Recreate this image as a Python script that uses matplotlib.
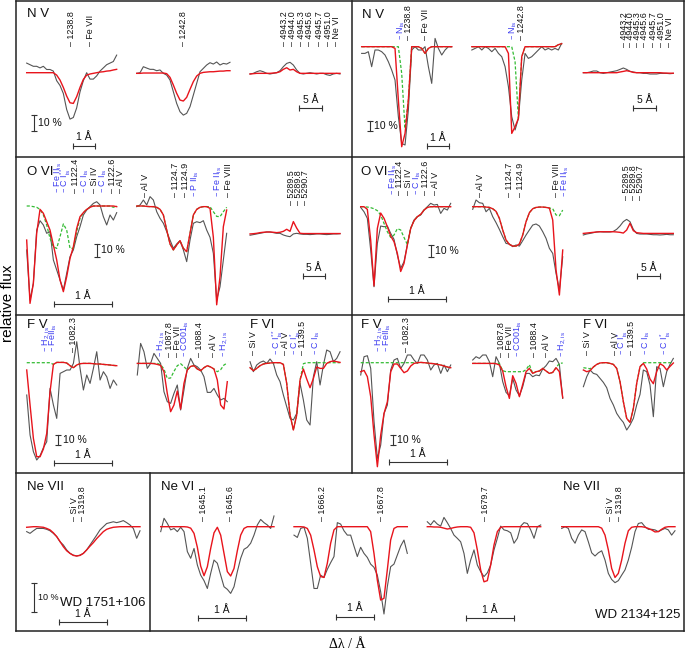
import numpy as np
import matplotlib
matplotlib.use("Agg")
import matplotlib.pyplot as plt
from matplotlib.lines import Line2D

plt.rcParams['font.family'] = ['Liberation Sans', 'DejaVu Sans']
plt.rcParams['mathtext.default'] = 'regular'

# ======================= DATA (relative flux) =======================
# --- N V, WD 1751+106 (left) ---
nv1238_l_obs = [1.06,1.05,1.04,1.04,1.03,1.04,1.02,1.02,1.01,0.95,0.92,0.87,0.77,0.71,0.72,0.78,0.88,0.95,1.00,0.96,0.96,0.98,1.01,1.03,1.05,1.06,1.07,1.11]
nv1238_l_mod = [1.0,1.0,1.0,1.0,1.0,1.0,1.0,1.0,1.0,0.985,0.954,0.908,0.854,0.812,0.808,0.85,0.908,0.958,0.985,0.992,0.996,1.0,1.004,1.006,1.01,1.012,1.017,1.021]
nv1242_l_obs = [0.996,1.0,1.0375,1.029,1.021,1.021,1.0125,1.017,0.996,0.985,0.954,0.881,0.808,0.756,0.735,0.746,0.7875,0.86,0.933,1.006,1.027,1.048,1.0625,1.054,1.067,1.048,1.058,1.054,1.065]
nv1242_l_mod = [0.996,0.996,0.998,0.998,0.998,0.998,0.998,0.998,0.998,0.994,0.971,0.923,0.871,0.829,0.823,0.846,0.896,0.944,0.979,0.996,1.002,1.004,1.006,1.006,1.008,1.01,1.01,1.0125,1.0125]
nvopt_l_obs = [0.992,0.996,1.006,1.0125,1.006,0.996,0.992,0.996,1.0,1.0125,1.0375,1.058,1.065,1.048,1.017,0.996,0.992,0.996,1.0,0.996,0.992,0.996,0.996,0.9875,0.983,0.992,0.996,0.992]
nvopt_l_mod = [0.992,0.994,0.996,0.996,0.996,0.996,0.996,0.998,1.0,1.006,1.021,1.031,1.017,1.021,1.006,0.996] + [0.996]*12
# --- N V, WD 2134+125 (right) ---
nv1238_r_obs = [0.933,0.933,0.95,0.8,0.967,0.967,0.95,0.917,0.85,0.767,0.667,0.3,0.033,0.017,0.367,0.967,1.0,0.967,0.967,1.0,0.8,0.633,1.083,0.983,0.917,0.967,1.0,1.0]
nv1238_r_mod = [1.0]*10 + [0.983,0.467,0.0,0.133,0.467,1.0,1.0,1.0,0.983,0.933,0.983] + [1.0]*7
nv1238_r_ism = [1.0]*12 + [0.733,0.183,0.467,1.0,1.0,1.0,0.983,0.933,0.983] + [1.0]*7
nv1242_r_obs = [0.967,0.983,1.0,0.967,1.0,0.983,0.95,0.983,0.933,0.9,0.8,0.6,0.3,0.167,0.283,0.667,0.933,0.883,0.9,0.933,0.967,1.0,0.967,0.983,0.967,0.983,0.967,1.033]
nv1242_r_mod = [1.0]*11 + [0.933,0.133,0.2,0.283,0.9,1.0] + [1.0]*9 + [1.02,1.03]
nv1242_r_ism = [1.0]*13 + [0.85,0.283,0.9,1.0] + [1.0]*9 + [1.02,1.03]
nvopt_r_obs = [1.0,1.0,1.007,1.017,1.017,1.0,0.993,1.0,1.007,1.013,1.02,1.033,1.047,1.033,1.013,1.007,1.0,1.0,0.993,0.993,0.987,0.987,0.987,0.993,0.993,0.993,0.99,0.993]
nvopt_r_mod = [1.0]*11 + [1.007,1.013,1.02,1.013,1.003] + [1.0]*8 + [0.997,0.996,0.995,0.995]
# --- O VI left ---
ovi1122_l_obs = [0.662,0.277,0.405,0.815,0.887,0.854,0.79,0.803,0.585,0.508,0.431,0.354,0.482,0.61,0.662,0.764,0.841,0.931,0.969,0.995,1.02,1.033,1.008,0.918,0.854,0.931,0.892,0.949]
ovi1122_l_mod = [0.738,0.251,0.405,0.79,0.974,0.944,0.879,0.815,0.7,0.585,0.431,0.341,0.456,0.597,0.687,0.828,0.918,0.949,0.974,0.99] + [1.0]*7 + [0.995]
ovi1122_l_ism = [1.0,1.0,0.995,0.99,0.974,0.931,0.854,0.751,0.687,0.674,0.764,0.862,0.815,0.674,0.674,0.803,0.905,0.949,0.974,0.99,1.0,1.0,1.0,1.0,1.0,1.0,0.99,1.0]
ovi1124_l_obs = [0.995,1.008,1.046,1.008,1.072,1.046,0.956,0.905,0.867,0.803,0.738,0.674,0.708,0.733,0.662,0.572,0.738,0.867,0.879,0.872,0.887,0.815,0.759,0.636,0.277,0.379,0.585,0.79]
ovi1124_l_mod = [1.0,1.0,1.0,0.997,0.995,0.995,0.99,0.974,0.931,0.815,0.708,0.662,0.7,0.733,0.674,0.649,0.79,0.931,0.974,0.99,0.995,0.995,0.982,0.759,0.24,0.456,0.841,0.969]
ovi1124_l_ism = [1.0,1.0,1.0,0.997,0.995,0.995,0.99,0.974,0.931,0.815,0.708,0.662,0.7,0.733,0.674,0.649,0.79,0.931,0.974,0.99,0.995,0.995,0.995,0.956,0.92,0.918,0.956,0.99]
oviopt_l_obs = [0.985,0.99,0.995,1.0,1.005,1.01,1.01,1.005,1.0,1.0,0.987,0.979,0.974,0.995,1.0,0.995,0.992,0.992,0.99,0.992,0.995,0.995,0.992,0.99,0.992,0.995,0.995,0.997]
oviopt_l_mod = [0.995,0.997,1.0,1.005,1.008,1.01,1.01,1.008,1.005,1.008,1.015,1.031,1.015,1.09,1.04,1.0] + [0.998]*12
# --- O VI right ---
ovi1122_r_obs = [0.994,0.958,0.903,0.639,0.333,0.694,0.839,0.833,0.839,0.778,0.728,0.597,0.486,0.542,0.681,0.819,0.889,0.917,0.931,0.972,1.0,1.028,1.014,1.019,0.944,0.986,0.972,1.028]
ovi1122_r_mod = [1.0,1.0,0.978,0.722,0.34,0.819,0.947,0.903,0.833,0.756,0.708,0.611,0.46,0.528,0.681,0.819,0.883,0.917,0.936,0.972,0.994,1.0] + [1.0]*6
ovi1122_r_ism = [1.0,1.0,0.997,0.992,0.983,0.967,0.931,0.861,0.792,0.744,0.764,0.817,0.806,0.744,0.685,0.819,0.883,0.917,0.936,0.972,0.994,1.0] + [1.0]*6
ovi1124_r_obs = [0.978,1.056,1.033,1.028,0.958,0.986,0.917,0.867,0.811,0.75,0.694,0.689,0.667,0.681,0.672,0.717,0.764,0.806,0.847,0.856,0.839,0.792,0.736,0.653,0.611,0.444,0.306,0.583]
ovi1124_r_mod = [1.0,1.0,1.0,1.0,0.997,0.994,0.983,0.961,0.903,0.806,0.722,0.686,0.672,0.672,0.689,0.764,0.875,0.95,0.983,0.994,0.997,0.997,0.994,0.989,0.889,0.472,0.264,0.639]
ovi1124_r_ism = [1.0,1.0,1.0,1.0,0.997,0.994,0.983,0.961,0.903,0.806,0.722,0.686,0.672,0.672,0.689,0.764,0.875,0.95,0.983,0.994,0.997,0.997,0.994,0.989,0.983,0.931,0.925,0.972]
oviopt_r_obs = [0.981,0.989,0.994,1.0,1.006,1.008,1.006,1.006,1.006,1.011,1.028,1.056,1.092,1.111,1.092,1.028,0.994,0.989,0.989,0.989,0.986,0.983,0.983,0.981,0.983,0.986,0.983,0.983]
oviopt_r_mod = [0.994,0.997,1.0,1.003,1.006,1.008,1.008,1.008,1.008,1.008,1.006,1.003,0.997,1.022,1.078,1.017,1.0,0.997] + [0.994]*10
# --- F V / F VI left ---
fv1082_l_obs = [0.677,0.277,0.11,0.027,0.07,0.15,0.21,0.743,0.577,0.443,0.893,0.91,0.927,0.927,0.993,1.21,0.943,0.727,0.877,0.793,0.943,1.11,0.827,0.91,0.86,0.743,0.827,0.777]
fv1082_l_mod = [0.927,0.577,0.243,0.06,0.06,0.137,0.293,0.71,0.983,1.003,1.003,1.003,0.997,0.97,0.95,0.977,0.99,0.993,0.993,0.993,0.99,0.987,0.987,0.983,0.98,0.977,0.973,0.97]
fv1082_l_ism = [1.0]*8 + [0.983,1.003,1.003,1.003,0.997,0.97,0.95,0.977,0.99,0.993,0.993,0.993,0.99,0.987,0.987,0.983,0.98,0.977,0.973,0.97]
fv1087_l_obs = [0.877,1.193,1.11,0.943,0.993,1.093,1.043,0.993,0.71,0.61,0.593,0.693,0.777,0.527,0.727,0.943,1.043,0.977,0.96,0.927,0.86,0.703,0.703,0.743,0.677,0.627,0.643,0.61]
fv1087_l_mod = [0.993,0.993,0.993,0.993,0.993,0.99,0.983,0.973,0.91,0.693,0.51,0.577,0.717,0.537,0.793,0.927,0.963,0.97,0.937,0.92,0.95,0.97,0.957,0.937,0.827,0.577,0.537,0.81]
fv1087_l_ism = [0.993]*7 + [0.98,0.937,0.843,0.847,0.913,0.97,0.99,0.96,0.927,0.963,0.97,0.937,0.92,0.95,0.97,0.957,0.937,0.91,0.93,0.977,0.997]
fvi1139_l_obs = [1.01,0.91,0.977,1.003,1.017,0.993,1.037,0.993,0.877,0.81,0.677,0.56,0.443,0.427,0.493,0.793,0.627,0.427,0.377,0.86,1.01,0.777,0.977,1.127,1.11,1.01,1.043,1.11]
fvi1139_l_mod = [0.95,0.92,0.943,0.97,0.987,0.993,0.997,1.0,1.0,1.0,0.983,0.793,0.477,0.327,0.477,0.827,0.937,0.837,0.75,0.843,0.957,0.943,0.943,0.993,1.01,1.017,1.01,1.003]
fvi1139_l_ism = [0.95,0.92,0.943,0.97,0.987,0.993,0.997,1.0,1.0,1.0,0.983,0.793,0.477,0.327,0.477,0.827,0.99] + [1.0]*11
# --- F V / F VI right ---
fv1082_r_obs = [0.877,1.06,1.07,0.943,0.41,0.043,0.177,0.493,0.577,0.927,1.027,1.043,0.943,0.993,1.077,1.077,1.027,0.993,1.077,1.077,1.027,0.927,0.977,0.993,0.893,0.977,0.91,0.977]
fv1082_r_mod = [0.91,0.923,0.86,0.66,0.277,-0.04,0.277,0.493,0.61,0.91,0.987,0.987,0.943,0.9,0.917,0.967,0.993,1.0,1.003,1.0,0.997,0.993,0.99,0.983,0.977,0.967,0.957,0.95]
fv1082_r_ism = [1.0]*18 + [1.003,1.0,0.997,0.993,0.99,0.983,0.977,0.967,0.957,0.95]
fv1087_r_obs = [1.027,1.06,1.043,1.077,1.077,1.01,0.86,1.06,0.993,0.81,0.703,0.67,0.843,0.727,0.67,0.76,0.893,0.893,0.86,0.877,0.87,0.937,0.97,1.017,1.01,1.043,0.983,0.643]
fv1087_r_mod = [0.993]*7 + [0.99,0.977,0.917,0.76,0.643,0.87,0.793,0.66,0.783,0.91,0.943,0.893,0.91,0.917,0.943,0.917,0.893,0.903,0.95,0.91,0.65]
fv1087_r_ism = [0.993]*9 + [0.92] + [0.91]*6 + [0.93,0.98,0.893,0.91,0.917,0.943,0.917,0.893,0.903,0.95,0.993,0.997]
fvi1139_r_obs = [0.76,0.86,0.927,0.893,0.883,0.843,0.803,0.75,0.643,0.577,0.493,0.443,0.403,0.327,0.377,0.443,0.577,0.683,0.927,0.91,0.777,0.46,0.96,0.943,0.76,0.91,0.983,1.043]
fvi1139_r_mod = [0.927,0.91,0.92,0.957,0.983,0.997,1.0,1.0,0.993,0.983,0.943,0.81,0.61,0.443,0.403,0.543,0.793,0.96,0.993,0.937,0.837,0.79,0.91,0.99,0.97,0.927,0.963,0.997]
fvi1139_r_ism = [0.95,0.945,0.94,0.957,0.983,0.997,1.0,1.0,0.993,0.983,0.943,0.81,0.61,0.443,0.403,0.543,0.793,0.96] + [1.0]*10
# --- Ne VII WD 1751+106 ---
nevii_l_obs = [0.983,0.977,0.986,0.994,0.994,0.994,0.991,0.986,0.977,0.966,0.948,0.937,0.92,0.908,0.902,0.899,0.902,0.908,0.92,0.937,0.954,0.971,0.989,1.0,1.011,1.014,1.017,1.014,1.017,1.021,1.014,1.006,0.994,0.96,0.986]
nevii_l_mod = [0.998,0.999,1.0,1.0,0.999,0.998,0.994,0.989,0.979,0.966,0.949,0.931,0.917,0.908,0.901,0.899,0.901,0.908,0.92,0.933,0.945,0.959,0.971,0.983,0.991,0.995,0.998,0.999,1.0,1.0,1.0,1.0,1.0,1.0,1.0]
# --- Ne VI / Ne VII WD 2134+125 ---
nevi1645_obs = [0.983,1.029,1.011,0.989,0.994,0.983,0.998,0.983,0.914,0.891,0.925,0.868,0.833,0.814,0.787,0.839,0.885,0.874,0.833,0.793,0.784,0.77,0.793,0.845,0.891,0.922,0.929,0.943,0.971,1.006,1.025,1.014,1.006,0.994,1.037]
nevi1645_mod = [1.0]*8 + [0.999,0.995,0.977,0.929,0.864,0.831,0.862,0.925,0.979,0.998,0.971,0.908,0.845,0.83,0.856,0.917,0.971,0.994,1.0] + [1.0]*8
nevi1666_obs = [0.971,0.963,0.994,0.998,0.96,0.874,0.787,0.787,0.833,0.825,0.853,0.876,0.897,1.014,1.009,0.986,0.971,0.971,0.933,0.897,0.929,0.908,0.894,0.871,0.86,0.833,0.776,0.699,0.793,0.862,0.871,0.902,0.933,0.954,0.908]
nevi1666_mod = [1.0,1.0,1.0,0.999,0.994,0.971,0.92,0.862,0.828,0.825,0.874,0.943,0.989] + [1.0]*10 + [0.983,0.908,0.816,0.747,0.753,0.851,0.954,0.994] + [1.0]*4
nevi1679_obs = [1.017,1.006,1.021,1.009,1.002,1.032,1.014,0.994,0.971,0.96,0.948,0.908,0.839,0.885,0.92,0.868,0.845,0.828,0.841,0.868,0.92,0.96,1.002,0.989,0.986,0.979,0.943,0.96,1.002,1.014,1.011,0.989,0.96,1.0,1.006]
nevi1679_mod = [1.0,1.0,0.999,0.999,0.998,0.995,0.992,0.994,0.997,0.999,1.0,1.0,1.0,0.998,0.979,0.92,0.851,0.81,0.814,0.868,0.937,0.983,0.998] + [1.0]*12
nevii_r_obs = [0.994,1.0,0.994,0.96,0.943,0.971,0.989,0.983,0.948,0.91,0.899,0.91,0.917,0.885,0.839,0.818,0.807,0.814,0.833,0.851,0.885,0.929,0.983,1.011,1.014,1.0,0.991,0.991,0.989,0.983,0.989,0.994,0.989,0.971,0.986]
nevii_r_mod = [1.0]*12 + [0.995,0.971,0.92,0.856,0.825,0.839,0.885,0.943,0.986,0.998,1.0,1.0,1.0,0.998,0.994,0.989,0.982,0.983,0.991,0.998,1.0,1.0,1.0]

# Line identifications: (delta lambda [A], label, interstellar?)
ids_nv1238_l = [(0.0, '1238.8', 0), (0.82, 'Fe VII', 0)]
ids_nv1242_l = [(0.0, '1242.8', 0)]
ids_nvopt_l = [(0, '4943.2', 0), (1.8, '4944.0', 0), (3.8, '4945.3', 0), (5.6, '4945.6', 0), (7.7, '4945.7', 0), (9.6, '4951.0', 0), (11.4, 'Ne VI', 0)]
ids_nv1238_r = [(0, 'N$_{is}$', 1), (0.34, '1238.8', 0), (1.12, 'Fe VII', 0)]
ids_nv1242_r = [(0, 'N$_{is}$', 1), (0.39, '1242.8', 0)]
ids_nvopt_r = [(0, '4943.2', 0), (1.4, '4944.0', 0), (2.9, '4945.3', 0), (4.5, '4945.6', 0), (6.3, '4945.7', 0), (8.1, '4951.0', 0), (9.9, 'Ne VI', 0)]
ids_ovi1122_l = [(-0.29, 'Fe II$_{is}$', 1), (-0.155, 'C I$^{**}_{is}$', 1), (0, '1122.4', 0), (0.18, 'C I$_{is}$', 1),
                 (0.33, 'Si IV', 0), (0.49, 'C I$_{is}$', 1), (0.64, '1122.6', 0), (0.79, 'Al V', 0)]
ids_ovi1124_l = [(-0.517, 'Al V', 0), (0, '1124.7', 0), (0.184, '1124.9', 0), (0.345, 'P II$_{is}$', 1), (0.747, 'Fe II$_{is}$', 1), (0.92, 'Fe VIII', 0)]
ids_oviopt_l = [(0, '5289.5', 0), (1.5, '5289.8', 0), (3.03, '5290.7', 0)]
ids_ovi1122_r = [(-0.115, 'Fe II$_{is}$', 1), (0, '1122.4', 0), (0.143, 'Si IV', 0), (0.299, 'C I$_{is}$', 1), (0.448, '1122.6', 0), (0.62, 'Al V', 0)]
ids_ovi1124_r = [(-0.517, 'Al V', 0), (0, '1124.7', 0), (0.184, '1124.9', 0), (0.805, 'Fe VIII', 0), (0.948, 'Fe II$_{is}$', 1)]
ids_oviopt_r = [(0, '5289.5', 0), (1.45, '5289.8', 0), (2.9, '5290.7', 0)]
ids_fv1082_l = [(-0.459, 'H$_{2,is}$', 1), (-0.345, 'FeII$_{is}$', 1), (0, '1082.3', 0)]
ids_fv1087_l = [(-0.143, 'H$_{2,is}$', 1), (0, '1087.8', 0), (0.138, 'Fe VII', 0), (0.276, 'CO01$_{is}$', 1), (0.517, '1088.4', 0), (0.759, 'Al V', 0), (0.943, 'H$_{2,is}$', 1)]
ids_fvi1139_l = [(-0.851, 'Si V', 0), (-0.42, 'C I$^{**}_{is}$', 1), (-0.288, 'Al V', 0), (-0.115, 'C I$^{*}_{is}$', 1), (0, '1139.5', 0), (0.241, 'C I$_{is}$', 1)]
ids_fv1082_r = [(-0.472, 'H$_{2,is}$', 1), (-0.334, 'FeII$_{is}$', 1), (0, '1082.3', 0)]
ids_fv1087_r = [(0, '1087.8', 0), (0.143, 'Fe VII', 0), (0.287, 'CO01$_{is}$', 1), (0.557, '1088.4', 0), (0.764, 'Al V', 0), (1.052, 'H$_{2,is}$', 1)]
ids_fvi1139_r = [(-0.765, 'Si V', 0), (-0.282, 'Al V', 0), (-0.144, 'C I$^{*}_{is}$', 1), (0, '1139.5', 0), (0.259, 'C I$_{is}$', 1), (0.592, 'C I$^{*}_{is}$', 1)]
ids_nevii_l = [(-0.181, 'Si V', 0), (0, '1319.8', 0)]
ids_nevi1645 = [(0, '1645.1', 0), (0.542, '1645.6', 0)]
ids_nevi1666 = [(0, '1666.2', 0), (1.563, '1667.8', 0)]
ids_nevi1679 = [(0, '1679.7', 0)]
ids_nevii_r = [(-0.179, 'Si V', 0), (0, '1319.8', 0)]

# ======================= LAYOUT =======================
W, H = 686, 653
fig = plt.figure(figsize=(W / 100, H / 100), dpi=100)

C_OBS = '#555555'
C_MOD = '#e8141c'
C_ISM = '#33bb33'
C_BLUE = '#3a3af0'
C_BAR = '#333333'

XL, XM, XR = 16, 351.5, 684
Y0, Y1, Y2, Y3, Y4 = 0.5, 157, 315, 473, 631
XG = 150
BOX = {
    'A': (XL, Y0, XM, Y1), 'B': (XM, Y0, XR, Y1),
    'C': (XL, Y1, XM, Y2), 'D': (XM, Y1, XR, Y2),
    'E': (XL, Y2, XM, Y3), 'F': (XM, Y2, XR, Y3),
    'G': (XL, Y3, XG, Y4), 'H': (XG, Y3, XR, Y4),
}

bg = fig.add_axes([0, 0, 1, 1])
bg.set_xlim(0, W)
bg.set_ylim(H, 0)
bg.axis('off')
frame_kw = dict(color='#222222', lw=1.1, solid_capstyle='projecting')
for (x0, x1, y0, y1) in [(XL, XR, Y0, Y0), (XL, XR, Y4, Y4), (XL, XL, Y0, Y4), (XR, XR, Y0, Y4),
                         (XL, XR, Y1, Y1), (XL, XR, Y2, Y2), (XL, XR, Y3, Y3),
                         (XM, XM, Y0, Y3), (XG, XG, Y3, Y4)]:
    bg.add_line(Line2D([x0, x1], [y0, y1], **frame_kw))

titles = [(27, 14, 'N V'), (362, 15, 'N V'), (27, 172, 'O VI'), (361, 172, 'O VI'),
          (27, 325, 'F V'), (250, 325, 'F VI'), (361, 325, 'F V'), (583, 325, 'F VI'),
          (27, 487, 'Ne VII'), (161, 487, 'Ne VI'), (563, 487, 'Ne VII')]
for x, y, t in titles:
    bg.text(x, y, t, fontsize=9.5, ha='left', va='center', color='#111111')

bg.text(8, 303, 'relative flux', rotation=90, fontsize=11, ha='center', va='center')
bg.text(347, 645, 'Δλ / Å', fontsize=10, ha='center', va='center', family=['Liberation Serif', 'DejaVu Serif'])


def panel_ax(box, cx, sx, cy, sy):
    l, t, r, b = BOX[box]
    ax = fig.add_axes([l / W, 1 - b / H, (r - l) / W, (b - t) / H])
    ax.set_xlim((l - cx) / sx, (r - cx) / sx)
    ax.set_ylim(1 - (b - cy) / sy, 1 + (cy - t) / sy)
    ax.axis('off')
    return ax


def draw(ax, rng, obs, mod, ism=None):
    ax.plot(np.linspace(rng[0], rng[1], len(obs)), obs, color=C_OBS, lw=0.8)
    if ism is not None:
        ax.plot(np.linspace(rng[0], rng[1], len(ism)), ism, color=C_ISM, lw=0.9, ls=(0, (2.5, 1.5)))
    ax.plot(np.linspace(rng[0], rng[1], len(mod)), mod, color=C_MOD, lw=1.0)


def label_ids(ax, ids, ybase):
    for dl, txt, isl in ids:
        ax.text(dl, ybase, '\u2013 ' + txt, rotation=90, ha='center', va='bottom',
                fontsize=6.4, color=C_BLUE if isl else '#111111')


def hbar(ax, x0, x1, y, ytxt, txt):
    ax.plot([x0, x1], [y, y], color=C_BAR, lw=0.8, marker='|', ms=4, mew=0.8, clip_on=False)
    ax.text((x0 + x1) / 2, ytxt, txt, ha='center', va='bottom', fontsize=7.5, color='#111111')


def vbar(ax, x, y0, y1, xt, txt, fs=7.5, vat='center', yt=None):
    ax.plot([x, x], [y0, y1], color=C_BAR, lw=0.8, marker='_', ms=5, mew=0.8, clip_on=False)
    ax.text(xt, (y0 + y1) / 2 if yt is None else yt, txt, ha='left', va=vat, fontsize=fs, color='#111111')


# ---- Box A: N V left ----
ax = panel_ax('A', 72, 22, 72.7, 160)
draw(ax, (-2.06, 2.03), nv1238_l_obs, nv1238_l_mod)
label_ids(ax, ids_nv1238_l, 1.167)
vbar(ax, -1.727, 0.736, 0.636, -1.545, '10 %')
hbar(ax, 0.045, 1.045, 0.545, 0.565, '1 Å')
ax = panel_ax('A', 184, 22, 72.7, 160)
draw(ax, (-2.15, 2.09), nv1242_l_obs, nv1242_l_mod)
label_ids(ax, ids_nv1242_l, 1.167)
ax = panel_ax('A', 284, 4.6, 72.7, 160)
draw(ax, (-7.39, 12.17), nvopt_l_obs, nvopt_l_mod)
label_ids(ax, ids_nvopt_l, 1.167)
hbar(ax, 3.26, 8.26, 0.779, 0.80, '5 Å')

# ---- Box B: N V right ----
ax = panel_ax('B', 401, 21.5, 46.7, 100)
draw(ax, (-1.83, 2.36), nv1238_r_obs, nv1238_r_mod, nv1238_r_ism)
label_ids(ax, ids_nv1238_r, 1.067)
vbar(ax, -1.44, 0.257, 0.157, -1.256, '10 %')
hbar(ax, 1.21, 2.21, 0.01, 0.04, '1 Å')
ax = panel_ax('B', 513.3, 21.5, 46.7, 100)
draw(ax, (-1.93, 2.25), nv1242_r_obs, nv1242_r_mod, nv1242_r_ism)
label_ids(ax, ids_nv1242_r, 1.067)
ax = panel_ax('B', 624.3, 4.6, 72.7, 100)
draw(ax, (-8.9, 10.65), nvopt_r_obs, nvopt_r_mod)
label_ids(ax, ids_nvopt_r, 1.26)
hbar(ax, 1.89, 6.89, 0.65, 0.68, '5 Å')

# ---- Box C: O VI left ----
ax = panel_ax('C', 75, 58, 206, 130)
draw(ax, (-0.833, 0.719), ovi1122_l_obs, ovi1122_l_mod, ovi1122_l_ism)
label_ids(ax, ids_ovi1122_l, 1.10)
vbar(ax, 0.374, 0.708, 0.608, 0.448, '10 %')
hbar(ax, -0.362, 0.638, 0.246, 0.27, '1 Å')
ax = panel_ax('C', 175, 58, 206, 130)
draw(ax, (-0.66, 0.891), ovi1124_l_obs, ovi1124_l_mod, ovi1124_l_ism)
label_ids(ax, ids_ovi1124_l, 1.072)
ax = panel_ax('C', 291.7, 4.4, 233.3, 130)
draw(ax, (-9.47, 10.98), oviopt_l_obs, oviopt_l_mod)
label_ids(ax, ids_oviopt_l, 1.218)
hbar(ax, 2.57, 7.57, 0.672, 0.695, '5 Å')

# ---- Box D: O VI right ----
ax = panel_ax('D', 400, 58, 206.7, 120)
draw(ax, (-0.678, 0.874), ovi1122_r_obs, ovi1122_r_mod, ovi1122_r_ism)
label_ids(ax, ids_ovi1122_r, 1.097)
vbar(ax, 0.529, 0.681, 0.581, 0.603, '10 %')
hbar(ax, -0.207, 0.793, 0.231, 0.255, '1 Å')
ax = panel_ax('D', 510, 58, 206.7, 120)
draw(ax, (-0.643, 0.909), ovi1124_r_obs, ovi1124_r_mod, ovi1124_r_ism)
label_ids(ax, ids_ovi1124_r, 1.083)
ax = panel_ax('D', 626.7, 4.6, 232.7, 120)
draw(ax, (-9.43, 10.13), oviopt_r_obs, oviopt_r_mod)
label_ids(ax, ids_oviopt_r, 1.272)
hbar(ax, 2.24, 7.24, 0.639, 0.665, '5 Å')

# ---- Box E: F V / F VI left ----
ax = panel_ax('E', 73.3, 58, 362.7, 100)
draw(ax, (-0.803, 0.749), fv1082_l_obs, fv1082_l_mod, fv1082_l_ism)
label_ids(ax, ids_fv1082_l, 1.107)
vbar(ax, -0.269, 0.277, 0.177, -0.178, '10 %')
hbar(ax, -0.333, 0.667, 0.0, 0.03, '1 Å')
ax = panel_ax('E', 169.3, 58, 362.7, 100)
draw(ax, (-0.552, 1.0), fv1087_l_obs, fv1087_l_mod, fv1087_l_ism)
label_ids(ax, ids_fv1087_l, 1.057)
ax = panel_ax('E', 302.7, 58, 362.7, 100)
draw(ax, (-0.908, 0.644), fvi1139_l_obs, fvi1139_l_mod, fvi1139_l_ism)
label_ids(ax, ids_fvi1139_l, 1.077)

# ---- Box F: F V / F VI right ----
ax = panel_ax('F', 406.7, 58, 362.7, 100)
draw(ax, (-0.793, 0.759), fv1082_r_obs, fv1082_r_mod, fv1082_r_ism)
label_ids(ax, ids_fv1082_r, 1.107)
vbar(ax, -0.241, 0.277, 0.177, -0.167, '10 %')
hbar(ax, -0.305, 0.695, 0.007, 0.037, '1 Å')
ax = panel_ax('F', 501.7, 58, 362.7, 100)
draw(ax, (-0.5, 1.052), fv1087_r_obs, fv1087_r_mod, fv1087_r_ism)
label_ids(ax, ids_fv1087_r, 1.057)
ax = panel_ax('F', 631.7, 58, 362.7, 100)
draw(ax, (-0.833, 0.718), fvi1139_r_obs, fvi1139_r_mod, fvi1139_r_ism)
label_ids(ax, ids_fvi1139_r, 1.077)

# ---- Box G: Ne VII, WD 1751+106 ----
ax = panel_ax('G', 82.7, 48, 526.7, 290)
draw(ax, (-1.167, 1.194), nevii_l_obs, nevii_l_mod)
label_ids(ax, ids_nevii_l, 1.02)
vbar(ax, -1.015, 0.806, 0.706, -0.93, '10 %', fs=6.5, vat='bottom', yt=0.742)
ax.text(-0.473, 0.737, 'WD 1751+106', fontsize=9.5, ha='left', va='center', color='#111111')
hbar(ax, -0.494, 0.506, 0.670, 0.682, '1 Å')

# ---- Box H: Ne VI / Ne VII, WD 2134+125 ----
ax = panel_ax('H', 204, 48, 526.7, 290)
draw(ax, (-0.902, 1.458), nevi1645_obs, nevi1645_mod)
label_ids(ax, ids_nevi1645, 1.02)
hbar(ax, -0.125, 0.875, 0.684, 0.696, '1 Å')
ax = panel_ax('H', 322.3, 38, 526.7, 290)
draw(ax, (-0.745, 2.237), nevi1666_obs, nevi1666_mod)
label_ids(ax, ids_nevi1666, 1.02)
hbar(ax, 0.36, 1.36, 0.69, 0.702, '1 Å')
ax = panel_ax('H', 485.7, 48, 526.7, 290)
draw(ax, (-1.217, 1.146), nevi1679_obs, nevi1679_mod)
label_ids(ax, ids_nevi1679, 1.02)
hbar(ax, -0.41, 0.59, 0.685, 0.697, '1 Å')
ax = panel_ax('H', 619.3, 48, 526.7, 290)
draw(ax, (-1.2, 1.16), nevii_r_obs, nevii_r_mod)
label_ids(ax, ids_nevii_r, 1.02)
ax.text(-0.506, 0.695, 'WD 2134+125', fontsize=9.5, ha='left', va='center', color='#111111')

fig.savefig('out.png', dpi=100)
